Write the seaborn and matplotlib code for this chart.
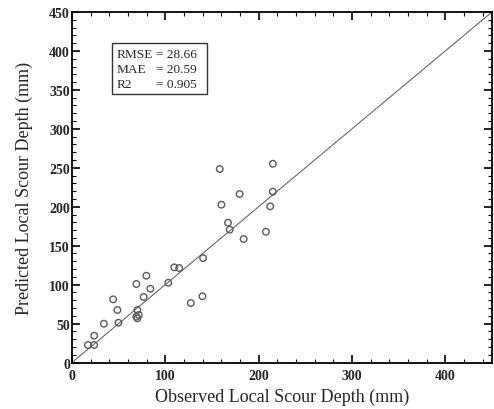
import matplotlib
matplotlib.use("Agg")
import matplotlib.pyplot as plt
from matplotlib.ticker import MultipleLocator
from matplotlib.patches import Rectangle
import seaborn as sns
import pandas as pd

# Observed vs predicted local scour depth (mm)
observed = [17.1, 23.8, 23.8, 34.2, 44.1, 48.7, 49.8, 69.0, 70.1, 71.5,
            69.0, 70.1, 76.8, 79.7, 84.0, 103.2, 109.6, 114.9, 127.3, 139.8,
            140.5, 158.3, 160.1, 167.2, 169.0, 179.6, 183.9, 207.8, 212.4, 215.2,
            215.2]
predicted = [22.5, 22.5, 34.4, 49.8, 81.1, 67.4, 51.1, 100.8, 67.4, 61.0,
             58.8, 56.7, 84.1, 111.4, 94.7, 102.4, 122.2, 121.3, 76.4, 85.0,
             134.1, 248.4, 202.6, 179.5, 170.5, 216.3, 158.5, 167.9, 200.5, 255.2,
             219.3]
ref_line = [0, 450]
metric_names = ["RMSE", "MAE", "R2"]
metric_values = ["28.66", "20.59", "0.905"]

df = pd.DataFrame({"obs": observed, "pred": predicted})

sns.set_theme(style="white")
plt.rcParams["font.family"] = ["Liberation Serif", "DejaVu Serif"]

fig = plt.figure(figsize=(4.94, 4.10), dpi=100)
ax = fig.add_axes([0.1457, 0.1134, 0.8502, 0.8549])

sns.lineplot(x=ref_line, y=ref_line, ax=ax, color="#555555", lw=0.7)
sns.scatterplot(data=df, x="obs", y="pred", ax=ax, marker="o", s=22,
                facecolor="none", edgecolor="#5a5a5a", linewidth=1.0)

ax.set_xlim(0, 450)
ax.set_ylim(0, 450)
ax.xaxis.set_major_locator(MultipleLocator(100))
ax.xaxis.set_minor_locator(MultipleLocator(20))
ax.yaxis.set_major_locator(MultipleLocator(50))
ax.yaxis.set_minor_locator(MultipleLocator(10))
ax.tick_params(which="both", direction="in", top=True, right=True,
               bottom=True, left=True, color="black")
ax.tick_params(which="major", length=6, width=1.2, labelsize=10)
ax.tick_params(axis="x", which="major", pad=5)
ax.tick_params(axis="y", which="major", pad=1.5)
ax.tick_params(which="minor", length=3, width=0.8)
for lbl in ax.get_xticklabels() + ax.get_yticklabels():
    lbl.set_fontweight("bold")
for sp in ax.spines.values():
    sp.set_color("black")
    sp.set_linewidth(1.3)

ax.set_xlabel("Observed Local Scour Depth (mm)", fontsize=13)
ax.set_ylabel("Predicted Local Scour Depth (mm)", fontsize=13)
ax.xaxis.set_label_coords(0.5, -0.073)
ax.yaxis.set_label_coords(-0.093, 0.5)

# metrics box
ax.add_patch(Rectangle((0.096, 0.767), 0.225, 0.145, transform=ax.transAxes,
                       facecolor="white", edgecolor="#333333", lw=1.0, zorder=5))
row_y = [0.881, 0.838, 0.796]
for name, val, y in zip(metric_names, metric_values, row_y):
    ax.text(0.107, y, name, transform=ax.transAxes, fontsize=9.6,
            va="center", ha="left", zorder=6)
    ax.text(0.199, y, f"= {val}", transform=ax.transAxes, fontsize=9.6,
            va="center", ha="left", zorder=6)

fig.savefig("out.png", dpi=100)
